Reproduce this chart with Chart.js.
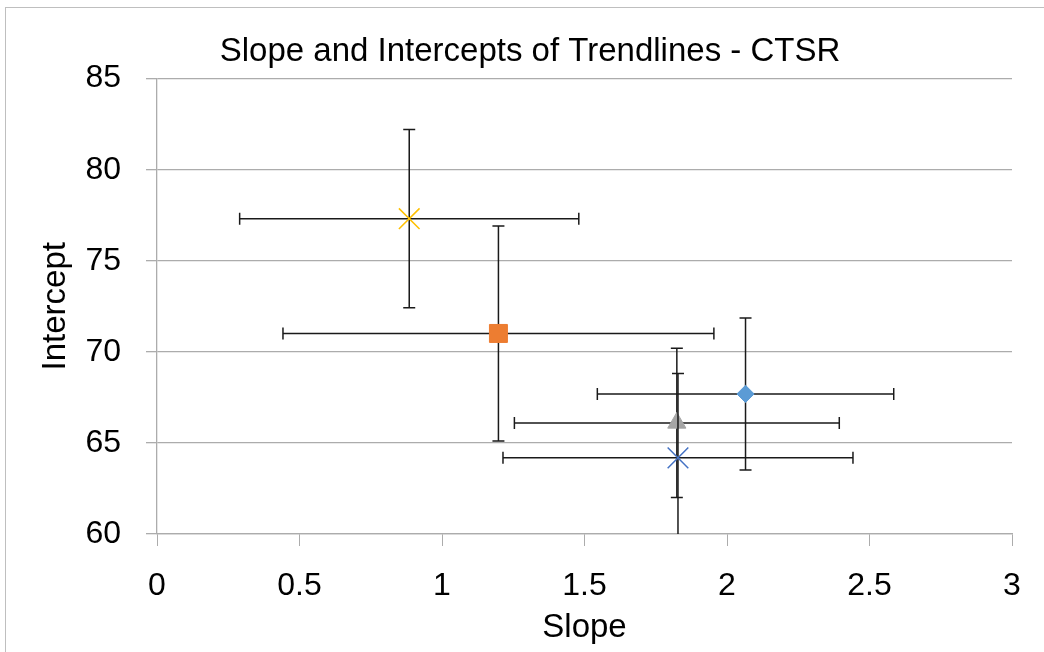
<!DOCTYPE html>
<html>
<head>
<meta charset="utf-8">
<script src="https://cdn.jsdelivr.net/npm/chart.js@4"></script>
<style>
  html, body { margin: 0; padding: 0; background: #fff; }
  #wrap { position: relative; width: 1044px; height: 652px; overflow: hidden; }
  #frame { position: absolute; left: 5px; top: 7px; width: 1100px; height: 700px;
           border-top: 1px solid #BFBFBF; border-left: 1px solid #BFBFBF; pointer-events: none; }
  canvas { position: absolute; left: 0; top: 0; }
</style>
</head>
<body>
<div id="wrap">
  <canvas id="chart" width="1044" height="652"></canvas>
  <div id="frame"></div>
</div>
<script>
// series in Excel order
const seriesNames = ['Series1', 'Series2', 'Series3', 'Series4', 'Series5'];
const slopes = [2.065, 1.198, 1.824, 0.885, 1.828];
const intercepts = [67.69, 71.01, 66.10, 77.31, 64.18];
const slopeErr = [0.520, 0.756, 0.570, 0.595, 0.614];
const interceptErr = [4.17, 5.90, 4.10, 4.89, 4.63];
const colors = ['#5B9BD5', '#ED7D31', '#A5A5A5', '#FFC000', '#4472C4'];
const markers = ['rectRot', 'rect', 'triangle', 'crossRot', 'crossRot'];
const markerSizes = [8.6, 12.7, 10.5, 14.6, 14.6];

const xTicks = { min: 0, max: 3, step: 0.5 };
const yTicks = { min: 60, max: 85, step: 5 };

const FONT = "Liberation Sans, Arial, sans-serif";
const PAD_LEFT = 48; // shifts the chart title to sit where Excel put it

// error bars drawn per dataset, right before its markers
const errorBars = {
  id: 'errorBars',
  beforeDatasetDraw(chart, args) {
    const i = args.index;
    const ctx = chart.ctx;
    const xs = chart.scales.x, ys = chart.scales.y;
    const area = chart.chartArea;
    const cap = 6;
    const x = slopes[i], y = intercepts[i];
    const px = xs.getPixelForValue(x), py = ys.getPixelForValue(y);
    const x0 = xs.getPixelForValue(x - slopeErr[i]);
    const x1 = xs.getPixelForValue(x + slopeErr[i]);
    const y0 = ys.getPixelForValue(y - interceptErr[i]);
    const y1 = ys.getPixelForValue(y + interceptErr[i]);
    ctx.save();
    ctx.beginPath();
    ctx.rect(area.left, area.top - 10, area.right - area.left, area.bottom - area.top + 10);
    ctx.clip();
    ctx.strokeStyle = '#1a1a1a';
    ctx.lineWidth = 1.5;
    ctx.beginPath();
    ctx.moveTo(x0, py); ctx.lineTo(x1, py);
    ctx.moveTo(x0, py - cap); ctx.lineTo(x0, py + cap);
    ctx.moveTo(x1, py - cap); ctx.lineTo(x1, py + cap);
    ctx.moveTo(px, y0); ctx.lineTo(px, y1);
    ctx.moveTo(px - cap, y0); ctx.lineTo(px + cap, y0);
    ctx.moveTo(px - cap, y1); ctx.lineTo(px + cap, y1);
    ctx.stroke();
    ctx.restore();
  }
};

const datasets = seriesNames.map((name, i) => ({
  label: name,
  data: [{ x: slopes[i], y: intercepts[i] }],
  pointStyle: markers[i],
  pointRadius: markerSizes[i],
  pointHoverRadius: markerSizes[i],
  backgroundColor: colors[i],
  borderColor: colors[i],
  borderWidth: markers[i] === 'crossRot' ? 1.5 : 1,
  order: seriesNames.length - i
}));

new Chart(document.getElementById('chart'), {
  type: 'scatter',
  data: { datasets },
  plugins: [errorBars],
  options: {
    responsive: false,
    animation: false,
    layout: { padding: { left: PAD_LEFT, right: 32, top: 0, bottom: 0 } },
    plugins: {
      legend: { display: false },
      tooltip: { enabled: false },
      title: {
        display: true,
        text: 'Slope and Intercepts of Trendlines - CTSR',
        color: '#000',
        font: { family: FONT, size: 33, weight: 'normal' },
        padding: { top: 32, bottom: 7 }
      }
    },
    scales: {
      x: {
        type: 'linear',
        min: xTicks.min, max: xTicks.max,
        ticks: {
          stepSize: xTicks.step, color: '#000', font: { family: FONT, size: 32 }, padding: 21,
          callback: v => String(Number(v))
        },
        grid: { display: true, drawOnChartArea: false, drawTicks: true, tickLength: 12, color: '#ACACAC' },
        border: { display: true, color: '#ACACAC', width: 1.3 },
        title: { display: true, text: 'Slope', color: '#000', font: { family: FONT, size: 33 }, padding: { top: 0, bottom: 4 } },
        afterFit(scale) { scale.height = 118; }
      },
      y: {
        type: 'linear',
        min: yTicks.min, max: yTicks.max,
        ticks: { stepSize: yTicks.step, color: '#000', font: { family: FONT, size: 32 }, padding: 25 },
        grid: { color: '#ACACAC', lineWidth: 1.3, tickLength: 11 },
        border: { display: true, color: '#ACACAC', width: 1.3 },
        title: { display: true, text: 'Intercept', color: '#000', font: { family: FONT, size: 33 }, padding: { top: 36 - PAD_LEFT, bottom: 0 } },
        afterFit(scale) { scale.width = 157 - PAD_LEFT; }
      }
    }
  }
});
</script>
</body>
</html>
